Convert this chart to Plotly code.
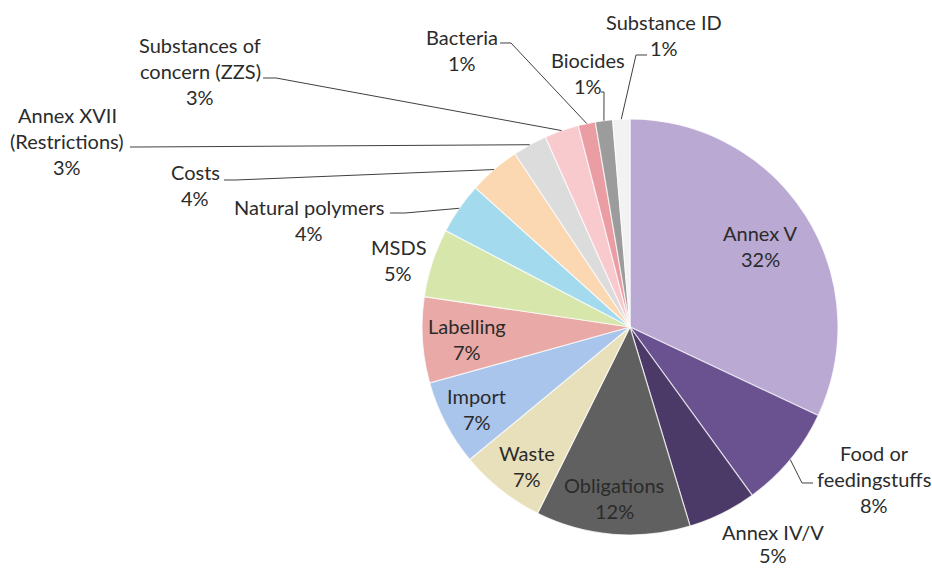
import math
import plotly.graph_objects as go

# ---------------- data ----------------
categories = ["Annex V", "Food or feedingstuffs", "Annex IV/V", "Obligations", "Waste",
              "Import", "Labelling", "MSDS", "Natural polymers", "Costs",
              "Annex XVII (Restrictions)", "Substances of concern (ZZS)",
              "Bacteria", "Biocides", "Substance ID"]
counts = [24, 6, 4, 9, 5, 5, 5, 4, 3, 3, 2, 2, 1, 1, 1]

# ---------------- styling ----------------
colors = ["#B9A9D3", "#6A5291", "#4B3A68", "#606060", "#E8E0BA",
          "#A9C5EB", "#E9A9A6", "#D7E6AA", "#A3DAEE", "#FBD7B2",
          "#DCDCDC", "#F8C9CD", "#EA9EA3", "#9C9C9C", "#F2F2F2"]

W, H = 932, 568
CX, CY, R = 630, 327, 208          # pie centre / radius in pixels
FONT = "Lato"
FSIZE = 20
TXT = "#2b2b2b"
LINE_H = 26

label_lines = {
    "Food or feedingstuffs": ["Food or", "feedingstuffs"],
    "Annex XVII (Restrictions)": ["Annex XVII", "(Restrictions)"],
    "Substances of concern (ZZS)": ["Substances of", "concern (ZZS)"],
}
label_pos = {  # centre x, centre y of first line (pixels)
    "Annex V": (760, 233),
    "Food or feedingstuffs": (874, 453),
    "Annex IV/V": (773, 532),
    "Obligations": (614, 485),
    "Waste": (527, 453),
    "Import": (477, 396),
    "Labelling": (467, 326),
    "MSDS": (398, 247),
    "Natural polymers": (309, 207),
    "Costs": (195, 172),
    "Annex XVII (Restrictions)": (67, 115),
    "Substances of concern (ZZS)": (200, 45),
    "Bacteria": (462, 37),
    "Biocides": (588, 60),
    "Substance ID": (664, 22),
}
line_gap = {"Annex IV/V": 23}
leader_pts = {  # label-side points of leader lines (pixels); end point comes from slice
    "Food or feedingstuffs": [(813, 483), (802, 483)],
    "Substances of concern (ZZS)": [(263, 78), (276, 78)],
    "Annex XVII (Restrictions)": [(130, 147), (140, 147)],
    "Costs": [(224, 180), (236, 180)],
    "Natural polymers": [(390, 213), (405, 213)],
    "Bacteria": [(500, 43), (511, 43)],
    "Biocides": [(601, 92), (604, 92)],
    "Substance ID": [(647, 55), (636, 55)],
}


def px(x):
    return x / W


def py(y):
    return 1 - y / H


total = sum(counts)

fig = go.Figure(go.Pie(
    labels=categories,
    values=counts,
    sort=False,
    direction="clockwise",
    rotation=0,
    marker=dict(colors=colors, line=dict(color="rgba(255,255,255,0.7)", width=1.2)),
    textinfo="none",
    hoverinfo="label+percent",
    domain=dict(x=[px(CX - R), px(CX + R)], y=[py(CY + R), py(CY - R)]),
    showlegend=False,
))

annotations = []
shapes = []
cum = 0
for name, c in zip(categories, counts):
    pct = f"{round(100 * c / total)}%"
    lines = label_lines.get(name, [name]) + [pct]
    x0, y0 = label_pos[name]
    gap = line_gap.get(name, LINE_H)
    for i, t in enumerate(lines):
        annotations.append(dict(
            x=px(x0), y=py(y0 + i * gap), xref="paper", yref="paper",
            text=t, showarrow=False, xanchor="center", yanchor="middle",
            font=dict(family=FONT, size=FSIZE, color=TXT)))
    mid = (cum + c / 2) / total * 2 * math.pi
    cum += c
    if name in leader_pts:
        ex = CX + R * math.sin(mid)
        ey = CY - R * math.cos(mid)
        pts = leader_pts[name] + [(ex, ey)]
        path = "M " + " L ".join(f"{px(a):.5f},{py(b):.5f}" for a, b in pts)
        shapes.append(dict(type="path", path=path, xref="paper", yref="paper",
                           line=dict(color="#404040", width=1)))

fig.update_layout(
    width=W, height=H,
    margin=dict(l=0, r=0, t=0, b=0),
    paper_bgcolor="white", plot_bgcolor="white",
    annotations=annotations, shapes=shapes,
)

fig.write_html("out.html",
               config={"displayModeBar": False},
               post_script="document.body.style.margin='0';document.body.style.overflow='hidden';")
